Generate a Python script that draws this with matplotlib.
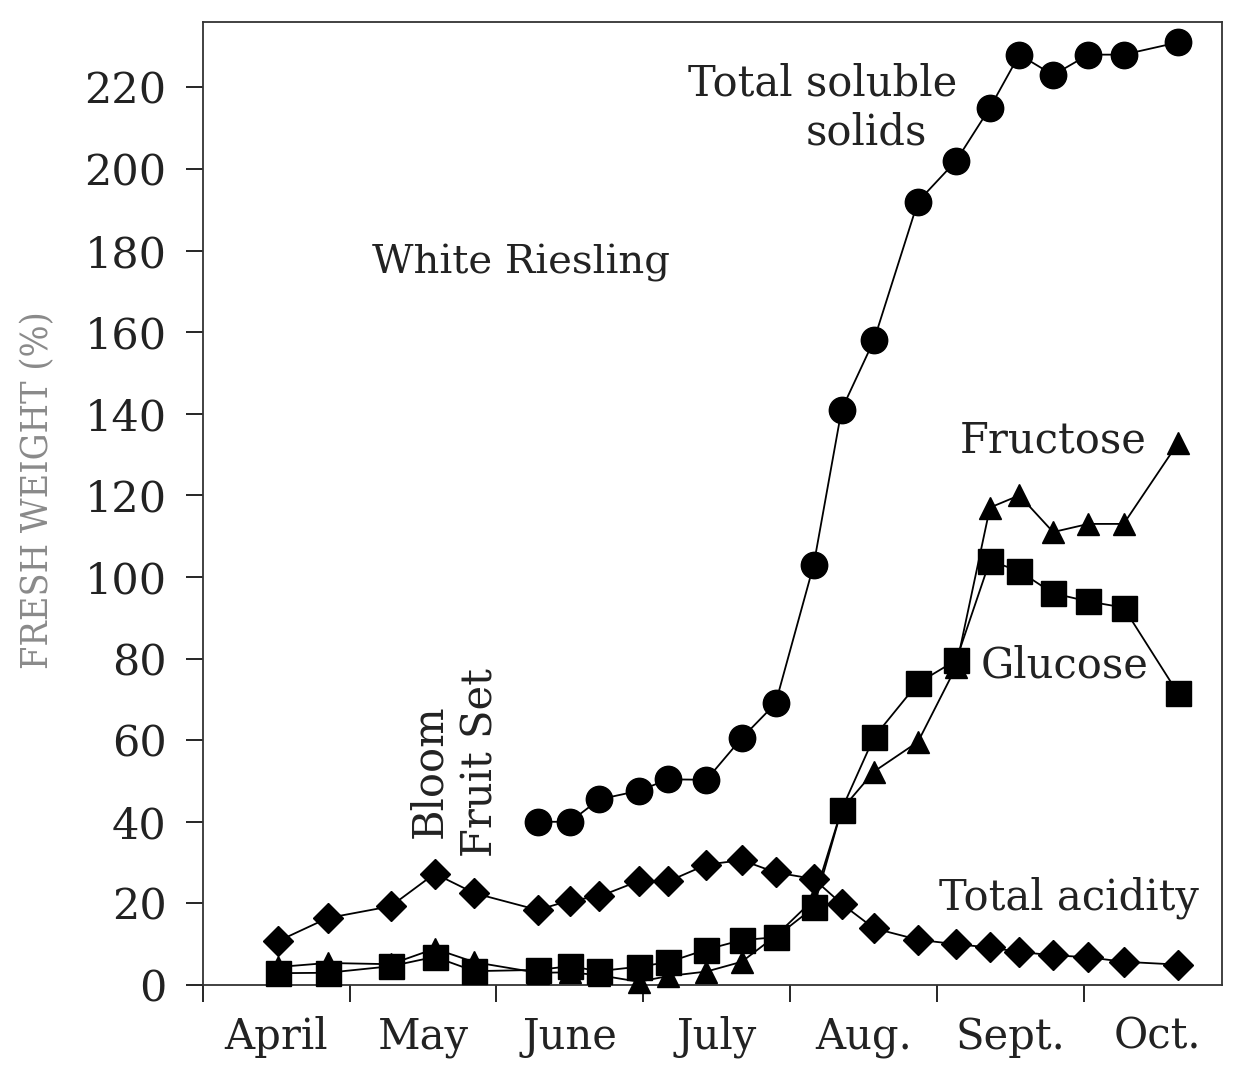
import matplotlib
matplotlib.use("Agg")
import matplotlib.pyplot as plt
import numpy as np

# sampling dates, in months after April 1 (ticks = month boundaries)
dates = [0.51, 0.85, 1.28, 1.58, 1.85, 2.28, 2.50, 2.70, 2.97, 3.17, 3.43, 3.67,
         3.90, 4.16, 4.35, 4.57, 4.87, 5.13, 5.36, 5.56, 5.79, 6.03, 6.27, 6.64]

tss = [np.nan, np.nan, np.nan, np.nan, np.nan, 40, 40, 45.5, 47.6, 50.4, 50.3, 60.5,
       69, 103, 141, 158, 192, 202, 215, 228, 223, 228, 228, 231]
glucose = [2.9, 3.0, 4.6, 6.9, 3.4, 3.7, 4.6, 3.4, 4.5, 5.6, 8.7, 11.0,
           11.7, 19, 43, 60.7, 74, 79.6, 104, 101.4, 96, 94, 92.5, 71.5]
fructose = [4.4, 5.4, 5.1, 8.9, 5.6, 3.0, 3.1, 2.4, 0.8, 2.2, 3.3, 5.7,
            12, 21, 43, 52.3, 59.6, 78, 117, 120, 111, 113, 113, 132.8]
acidity = [10.7, 16.4, 19.3, 27.3, 22.5, 18.4, 20.7, 21.7, 25.5, 25.4, 29.5, 30.6,
           27.6, 26.0, 19.9, 13.9, 11.1, 10.0, 9.2, 8.1, 7.3, 6.8, 5.7, 5.0]

months = ["April", "May", "June", "July", "Aug.", "Sept.", "Oct."]
yticks = list(range(0, 221, 20))

plt.rcParams['font.family'] = ['DejaVu Serif']
txt = '#222222'

fig = plt.figure(figsize=(12.36, 10.68), dpi=100)
ax = fig.add_axes([0.164, 0.0777, 0.8247, 0.9017])

lw = 1.3
ax.plot(dates, acidity, color='black', lw=lw, marker='D', ms=15, clip_on=False, zorder=3)
ax.plot(dates, fructose, color='black', lw=lw, marker='^', ms=16, clip_on=False, zorder=4)
ax.plot(dates, glucose, color='black', lw=lw, marker='s', ms=18, clip_on=False, zorder=5)
ax.plot(dates, tss, color='black', lw=lw, marker='o', ms=19, clip_on=False, zorder=6)

ax.set_xlim(0, 6.94)
ax.set_ylim(0, 236)

ax.set_yticks(yticks)
ax.set_yticklabels([str(v) for v in yticks])
ax.tick_params(axis='y', length=12, width=1.2, pad=14, labelsize=31, labelcolor=txt)

ax.set_xticks(np.arange(0, 7))
ax.set_xticklabels([])
ax.set_xticks(np.arange(len(months)) + 0.5, minor=True)
ax.set_xticklabels(months, minor=True)
ax.tick_params(axis='x', which='major', length=12, width=1.2, direction='out')
ax.tick_params(axis='x', which='minor', length=0, pad=22, labelsize=30, labelcolor=txt)

for s in ax.spines.values():
    s.set_linewidth(1.3)
    s.set_color('#333333')

fs = 30
ax.text(4.22, 221, "Total soluble", ha='center', va='center', fontsize=fs, color=txt)
ax.text(4.52, 209, "solids", ha='center', va='center', fontsize=fs, color=txt)
ax.text(2.17, 177, "White Riesling", ha='center', va='center', fontsize=fs - 1, color=txt)
ax.text(5.79, 133.4, "Fructose", ha='center', va='center', fontsize=fs, color=txt)
ax.text(5.87, 78.3, "Glucose", ha='center', va='center', fontsize=fs, color=txt)
ax.text(5.90, 21.5, "Total acidity", ha='center', va='center', fontsize=fs, color=txt)
ax.text(1.54, 52.4, "Bloom", ha='center', va='center', rotation=90, fontsize=fs, color=txt)
ax.text(1.89, 54.6, "Fruit Set", ha='center', va='center', rotation=90, fontsize=fs, color=txt)

fig.text(0.031, 0.541, "FRESH WEIGHT (%)", rotation=90, ha='center', va='center',
         fontsize=27, color='#8a8a8a', fontstretch='condensed')

fig.savefig("out.png", dpi=100)
